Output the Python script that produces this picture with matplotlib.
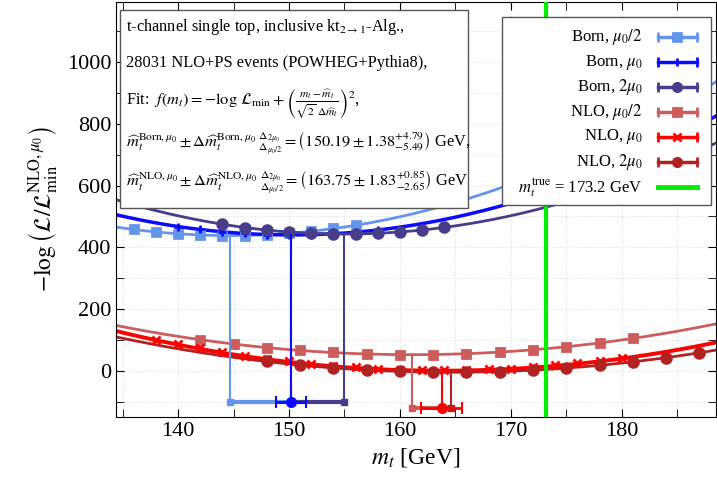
import numpy as np
import matplotlib
matplotlib.use('Agg')
import matplotlib.pyplot as plt
from matplotlib.patches import Rectangle
from matplotlib.ticker import MultipleLocator

plt.rcParams['font.family'] = 'serif'
plt.rcParams['font.serif'] = ['Liberation Serif', 'DejaVu Serif']
plt.rcParams['mathtext.fontset'] = 'stix'

# series labels / styles
labels = [r'Born, $\mu_0/2$', r'Born, $\mu_0$', r'Born, $2\mu_0$',
          r'NLO, $\mu_0/2$', r'NLO, $\mu_0$', r'NLO, $2\mu_0$']
colors = ['#6495ed', '#0a0aff', '#483d8b', '#cd5c5c', '#ff0000', '#b22222']
markers = ['s', '+', 'o', 's', 'x', 'o']

# pseudo-data points (m_t in GeV, -log L)
born_half_m = [136, 138, 140, 142, 144, 146, 148, 150, 152, 154, 156]
born_half_l = [458, 450, 444, 440, 438, 438, 441, 447, 453, 463, 473]
born_one_m = [140, 142, 144, 146, 148, 150, 152, 154, 156, 158]
born_one_l = [467, 458, 450, 445, 441, 440, 441, 444, 449, 456]
born_two_m = [144, 146, 148, 150, 152, 154, 156, 158, 160, 162, 164]
born_two_l = [476, 464, 457, 449, 445, 443, 444, 445, 449, 457, 466]
nlo_half_m = [142, 145, 148, 151, 154, 157, 160, 163, 166, 169, 172, 175, 178, 181]
nlo_half_l = [101, 87, 75, 66, 59, 54, 52, 52, 55, 60, 68, 78, 90, 105]
nlo_one_m = [138, 140, 142, 144, 146, 148, 150, 152, 154, 156, 158, 160,
             162, 164, 166, 168, 170, 172, 174, 176, 178, 180]
nlo_one_l = [100, 85, 72, 60, 49, 38, 30, 22, 15, 11, 6, 3,
             2, 1, 2, 4, 7, 12, 18, 24, 31, 40]
nlo_two_m = [148, 151, 154, 157, 160, 163, 166, 169, 172, 175, 178, 181, 184, 187]
nlo_two_l = [30, 18, 9, 2, -2, -5, -5, -3, 2, 9, 18, 29, 42, 58]

points_m = [born_half_m, born_one_m, born_two_m, nlo_half_m, nlo_one_m, nlo_two_m]
points_l = [born_half_l, born_one_l, born_two_l, nlo_half_l, nlo_one_l, nlo_two_l]

# fit results: m_hat, delta m_hat, -log L_min
fit_mhat = [144.70, 150.19, 154.98, 161.10, 163.75, 164.60]
fit_dm = [1.387, 1.38, 1.38, 1.94, 1.83, 1.995]
fit_lmin = [438, 440, 443, 52, 0, -5]

# where the result bars are drawn
bar_y = [-100, -100, -100, -120, -120, -120]

m_true = 173.2


def fit_curve(m, mhat, dm, lmin):
    return lmin + ((m - mhat) / (np.sqrt(2) * dm)) ** 2


def draw_results(ax, i_half, i_one, i_two):
    y = bar_y[i_one]
    mc = fit_mhat[i_one]
    for i in (i_half, i_two):
        ax.plot([fit_mhat[i], fit_mhat[i]], [fit_lmin[i], y], color=colors[i], lw=1.5, zorder=3)
        ax.plot([fit_mhat[i], mc], [y, y], color=colors[i], lw=3, zorder=4,
                solid_capstyle='butt')
        ax.plot([fit_mhat[i]], [y], 's', color=colors[i], ms=4, zorder=4)
    ax.plot([mc, mc], [fit_lmin[i_one], y], color=colors[i_one], lw=1.5, zorder=3)
    ax.errorbar([mc], [y], xerr=[fit_dm[i_one]], fmt='o', color=colors[i_one], ms=7,
                elinewidth=2, capsize=4, capthick=1.5, zorder=5)


def draw_legend(ax):
    ax.add_patch(Rectangle((0.643, 0.511), 0.349, 0.453, transform=ax.transAxes,
                           facecolor='white', edgecolor='#555555', lw=1.0, zorder=10))
    rows = [0.916, 0.855, 0.795, 0.735, 0.675, 0.614, 0.554]
    x0, x1 = 0.903, 0.968
    for k in range(6):
        yy = rows[k]
        ax.text(0.878, yy, labels[k], transform=ax.transAxes, ha='right', va='center',
                fontsize=12, zorder=11)
        ax.plot([x0, x1], [yy, yy], color=colors[k], lw=2.5, transform=ax.transAxes,
                zorder=11, clip_on=False)
        ax.plot([x0, x1], [yy, yy], '|', color=colors[k], ms=7, mew=2,
                transform=ax.transAxes, zorder=11, clip_on=False)
        ax.plot([(x0 + x1) / 2], [yy], markers[k], color=colors[k], ms=6, mew=2,
                transform=ax.transAxes, zorder=12, clip_on=False)
    ax.text(0.878, rows[6], r'$m_t^{\mathrm{true}}$ = 173.2 GeV', transform=ax.transAxes,
            ha='right', va='center', fontsize=12, zorder=11)
    ax.plot([x0, x1], [rows[6], rows[6]], color='#00ee00', lw=3.5, transform=ax.transAxes,
            zorder=11, clip_on=False)


def draw_textbox(ax):
    ax.add_patch(Rectangle((0.0067, 0.504), 0.58, 0.477, transform=ax.transAxes,
                           facecolor='white', edgecolor='#555555', lw=1.0, zorder=10))
    lines = [
        r't-channel single top, inclusive kt$_{2\to1}$-Alg.,',
        r'28031 NLO+PS events (POWHEG+Pythia8),',
        r'Fit:  $f(m_t) = -\log\,\mathcal{L}_{\min} + \left(\frac{m_t - \widehat{m}_t}{\sqrt{2}\;\Delta\widehat{m}_t}\right)^2$,',
        r'$\widehat{m}_t^{\mathrm{Born},\mu_0} \pm \Delta\widehat{m}_t^{\mathrm{Born},\mu_0}\;{}^{\Delta_{2\mu_0}}_{\Delta_{\mu_0/2}} = \left(150.19 \pm 1.38^{+4.79}_{-5.49}\right)$ GeV,',
        r'$\widehat{m}_t^{\mathrm{NLO},\mu_0} \pm \Delta\widehat{m}_t^{\mathrm{NLO},\mu_0}\;{}^{\Delta_{2\mu_0}}_{\Delta_{\mu_0/2}} = \left(163.75 \pm 1.83^{+0.85}_{-2.65}\right)$ GeV',
    ]
    ys = [0.940, 0.853, 0.757, 0.660, 0.564]
    for s, yy in zip(lines, ys):
        ax.text(0.0167, yy, s, transform=ax.transAxes, ha='left', va='center',
                fontsize=11.8, zorder=11)


def plot_likelihood():
    fig = plt.figure(figsize=(7.17, 4.90), dpi=100)
    ax = fig.add_axes([0.1618, 0.149, 0.8368, 0.847])

    mm = np.linspace(134.0, 189.0, 400)
    lws = [2, 2.5, 2, 2, 2.8, 2]
    for i in range(6):
        ax.plot(mm, fit_curve(mm, fit_mhat[i], fit_dm[i], fit_lmin[i]), color=colors[i],
                lw=lws[i], zorder=2)
        ax.plot(points_m[i], points_l[i], linestyle='none', marker=markers[i],
                color=colors[i], ms=6 if markers[i] != 'o' else 7, mew=2, zorder=3)

    draw_results(ax, 0, 1, 2)
    draw_results(ax, 3, 4, 5)

    ax.axvline(m_true, color='#00ee00', lw=3, zorder=6)

    ax.set_xlim(134.4, 188.5)
    ax.set_ylim(-150, 1195)
    ax.xaxis.set_major_locator(MultipleLocator(10))
    ax.xaxis.set_minor_locator(MultipleLocator(5))
    ax.yaxis.set_major_locator(MultipleLocator(200))
    ax.yaxis.set_minor_locator(MultipleLocator(100))
    ax.tick_params(which='both', direction='in', top=True, right=True, labelsize=16)
    ax.tick_params(which='major', length=6)
    ax.tick_params(which='minor', length=6)
    for lab in ax.get_xticklabels() + ax.get_yticklabels():
        lab.set_fontfamily('Liberation Serif')
    ax.grid(True, which='both', color='#dddddd', ls=':', lw=0.8)
    ax.set_axisbelow(True)

    ax.set_xlabel(r'$m_t$ [GeV]', fontsize=17)
    ax.set_ylabel(r'$-\log\left(\mathcal{L}/\mathcal{L}_{\min}^{\mathrm{NLO},\mu_0}\right)$',
                  fontsize=17)

    draw_textbox(ax)
    draw_legend(ax)

    fig.savefig('out.png', dpi=100)


if __name__ == "__main__":
    plot_likelihood()
